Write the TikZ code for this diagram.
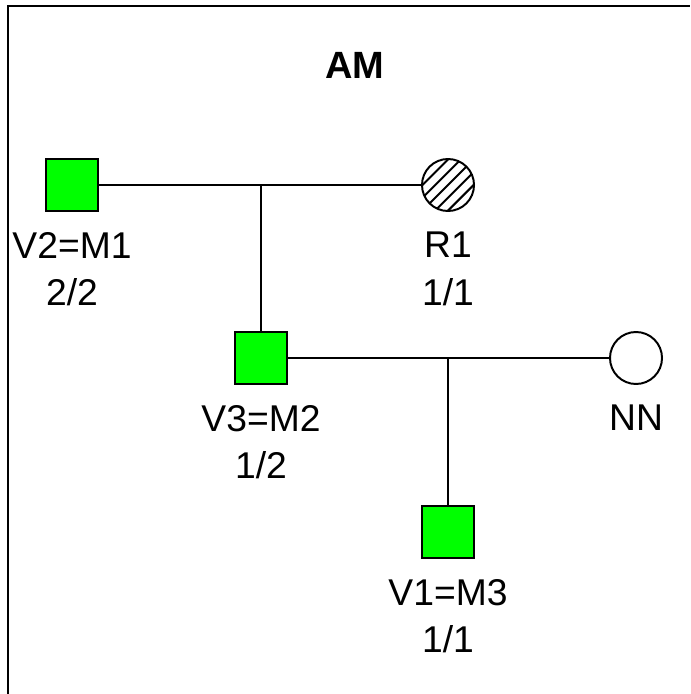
\documentclass[tikz,border=0pt]{standalone}
\usepackage{fontspec}
\setmainfont{Liberation Sans}
\usetikzlibrary{positioning}

\begin{document}
\begin{tikzpicture}[
  x=0.025cm, y=-0.025cm, node distance=0.475cm,
  font=\fontsize{26.5}{34}\selectfont, line width=1.4pt,
  male/.style={draw, fill=green, minimum size=1.3cm, inner sep=0pt},
  female/.style={draw, circle, fill=white, minimum size=1.3cm, inner sep=0pt},
  hatched/.style={female, path picture={
      \foreach \k in {-3,...,3}
        \draw[line width=1.4pt] ([xshift=\k*0.32cm]path picture bounding box.center)
          ++(-0.8cm,-0.8cm) -- ++(1.6cm,1.6cm);}},
  lbl/.style={align=center, inner sep=0pt}
]
\useasboundingbox (0,0) rectangle (690,694);
\draw[line width=2.1pt] (8,694) -- (8,6) -- (690,6);

\node[font=\fontsize{27}{34}\selectfont\bfseries] (title) at (355,65) {AM};

% first couple
\node[male] (m1) at (72,185) {};
\node[hatched] (r1) at (448,185) {};
\coordinate (j1) at (261,185);
\draw (m1) -- (r1);

% second couple
\node[male] (m2) at (261,358) {};
\node[female] (nn) at (636,358) {};
\coordinate (j2) at (448,358);
\draw (j1) -- (m2);
\draw (m2) -- (nn);

% child
\node[male] (m3) at (448,532) {};
\draw (j2) -- (m3);

\node[lbl, below=of m1] (m1lbl) {V2=M1\\2/2};
\node[lbl, below=of r1] (r1lbl) {R1\\1/1};
\node[lbl, below=of m2] (m2lbl) {V3=M2\\1/2};
\node[lbl, below=of nn] (nnlbl) {NN};
\node[lbl, below=of m3] (m3lbl) {V1=M3\\1/1};
\end{tikzpicture}
\end{document}
